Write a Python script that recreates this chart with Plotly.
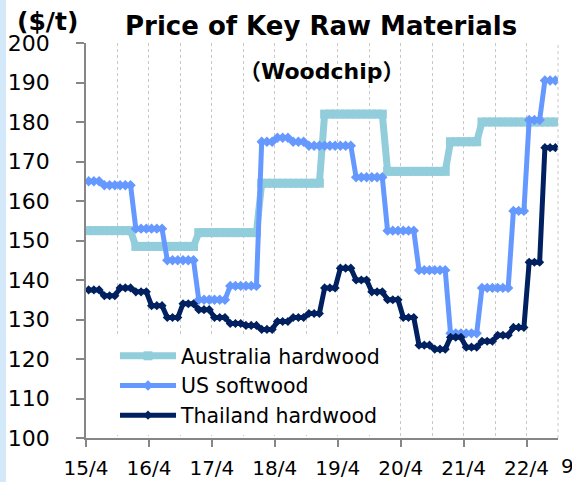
import plotly.graph_objects as go

# month index 0 = 15/4 ... 89 = 22/9
tick_labels = ["15/4", "16/4", "17/4", "18/4", "19/4", "20/4", "21/4", "22/4"]

australia_hardwood = [
    152.5, 152.5, 152.5, 152.5, 152.5, 152.5, 152.5, 152.5, 152.5,
    148.5, 148.5, 148.5, 148.5, 148.5, 148.5, 148.5, 148.5, 148.5, 148.5, 148.5, 148.5,
    152, 152, 152, 152, 152, 152, 152, 152, 152, 152, 152, 152,
    164.5, 164.5, 164.5, 164.5, 164.5, 164.5, 164.5, 164.5, 164.5, 164.5, 164.5, 164.5,
    182, 182, 182, 182, 182, 182, 182, 182, 182, 182, 182, 182,
    167.5, 167.5, 167.5, 167.5, 167.5, 167.5, 167.5, 167.5, 167.5, 167.5, 167.5, 167.5,
    175, 175, 175, 175, 175, 175,
    180, 180, 180, 180, 180, 180, 180, 180, 180, 180, 180, 180, 180, 180, 180,
]

us_softwood = [
    165, 165, 165,
    164, 164, 164, 164, 164, 164,
    153, 153, 153, 153, 153, 153,
    145, 145, 145, 145, 145, 145,
    135, 135, 135, 135, 135, 135,
    138.5, 138.5, 138.5, 138.5, 138.5, 138.5,
    175, 175, 175,
    176, 176, 176,
    175, 175, 175,
    174, 174, 174, 174, 174, 174, 174, 174, 174,
    166, 166, 166, 166, 166, 166,
    152.5, 152.5, 152.5, 152.5, 152.5, 152.5,
    142.5, 142.5, 142.5, 142.5, 142.5, 142.5,
    126.5, 126.5, 126.5, 126.5, 126.5, 126.5,
    138, 138, 138, 138, 138, 138,
    157.5, 157.5, 157.5,
    180.5, 180.5, 180.5,
    190.5, 190.5, 190.5,
]

thailand_hardwood = [
    137.5, 137.5, 137.5, 136, 136, 136, 138, 138, 138, 137, 137, 137,
    133.5, 133.5, 133.5, 130.5, 130.5, 130.5, 134, 134, 134, 132.5, 132.5, 132.5,
    130.5, 130.5, 130.5, 129, 129, 129, 128.5, 128.5, 128.5, 127.5, 127.5, 127.5,
    129.5, 129.5, 129.5, 130.5, 130.5, 130.5, 131.5, 131.5, 131.5, 138, 138, 138,
    143, 143, 143, 140, 140, 140, 137, 137, 137, 135, 135, 135,
    130.5, 130.5, 130.5, 123.5, 123.5, 123.5, 122.5, 122.5, 122.5, 125.5, 125.5, 125.5,
    123, 123, 123, 124.5, 124.5, 124.5, 126, 126, 126, 128, 128, 128,
    144.5, 144.5, 144.5, 173.5, 173.5, 173.5,
]

months = list(range(len(australia_hardwood)))

W, H = 572, 482
ML, MR, MT, MB = 86, 14, 43, 44
PW, PH = W - ML - MR, H - MT - MB


def px(x):
    return (x - ML) / PW


def py(y):
    return (H - MB - y) / PH


FONT = "DejaVu Sans"

fig = go.Figure()
fig.add_trace(go.Scatter(
    x=months, y=australia_hardwood, name="Australia hardwood", mode="lines+markers",
    line=dict(color="#92CDDC", width=7), marker=dict(symbol="square", size=9, color="#92CDDC")))
fig.add_trace(go.Scatter(
    x=months, y=us_softwood, name="US softwood", mode="lines+markers",
    line=dict(color="#6699FF", width=5), marker=dict(symbol="diamond", size=8, color="#6699FF")))
fig.add_trace(go.Scatter(
    x=months, y=thailand_hardwood, name="Thailand hardwood", mode="lines+markers",
    line=dict(color="#002060", width=5), marker=dict(symbol="diamond", size=7, color="#002060")))

fig.update_layout(
    width=W, height=H,
    margin=dict(l=ML, r=MR, t=MT, b=MB, autoexpand=False),
    paper_bgcolor="white", plot_bgcolor="white",
    font=dict(family=FONT, color="black"),
    showlegend=True,
    legend=dict(x=px(115), y=py(336), xanchor="left", yanchor="top",
                bgcolor="white", font=dict(size=20.5, family=FONT, color="black"),
                itemwidth=56, tracegroupgap=0),
    xaxis=dict(
        range=[-0.5, 89.5],
        tickmode="array",
        tickvals=[-0.5 + 12 * k for k in range(len(tick_labels))],
        ticktext=tick_labels,
        ticks="outside", ticklen=7, tickcolor="#868686", tickwidth=1.5,
        showline=True, linecolor="#868686", linewidth=1.5,
        showgrid=True, gridcolor="#c8c8c8", griddash="dot", gridwidth=1,
        minor=dict(tickmode="array", tickvals=[5.5 + 12 * k for k in range(8)],
                   showgrid=True, gridcolor="#c8c8c8", griddash="dot", gridwidth=1, ticks=""),
        tickfont=dict(size=20, family=FONT, color="black"),
        ticklabelstandoff=4,
        zeroline=False, automargin=False,
    ),
    yaxis=dict(
        range=[100, 200], dtick=10, tick0=100,
        ticks="outside", ticklen=8, tickcolor="#868686", tickwidth=1.5,
        showline=True, linecolor="#868686", linewidth=1.5,
        showgrid=False, zeroline=False,
        tickfont=dict(size=22, family=FONT, color="black"),
        ticklabelstandoff=22, automargin=False,
    ),
    shapes=[
        dict(type="rect", xref="paper", yref="paper", x0=px(0), x1=px(6), y0=py(H), y1=py(0),
             fillcolor="#d3e9fa", line=dict(width=0), layer="below"),
        dict(type="line", xref="paper", yref="paper", x0=1, x1=1, y0=0, y1=1,
             line=dict(color="#c8c8c8", width=1, dash="dot")),
    ],
    annotations=[
        dict(text="<b>Price of Key Raw Materials</b>", xref="paper", yref="paper",
             x=px(320.5), y=py(26), xanchor="center", yanchor="middle", showarrow=False,
             font=dict(size=26, family=FONT, color="black")),
        dict(text="<b>($/t)</b>", xref="paper", yref="paper",
             x=px(47.6), y=py(22), xanchor="center", yanchor="middle", showarrow=False,
             font=dict(size=25, family=FONT, color="black")),
        dict(text="<b>（Woodchip）</b>", xref="paper", yref="paper",
             x=px(321.5), y=py(71), xanchor="center", yanchor="middle", showarrow=False,
             font=dict(size=22, family=FONT + ", Noto Sans CJK JP", color="black")),
        dict(text="9", xref="paper", yref="paper",
             x=px(567), y=py(466), xanchor="center", yanchor="middle", showarrow=False,
             font=dict(size=20, family=FONT, color="black")),
    ],
)

fig.write_html("out.html", config={"displayModeBar": False},
               post_script="document.body.style.margin='0';")
